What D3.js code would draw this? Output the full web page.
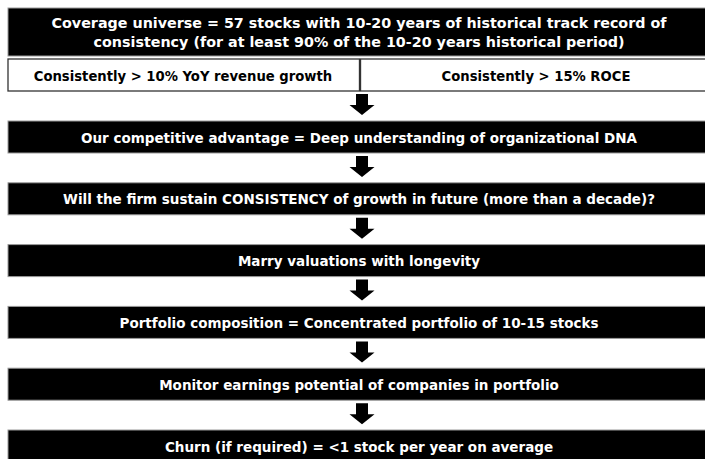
<!DOCTYPE html>
<html>
<head>
<meta charset="utf-8">
<script src="https://cdn.jsdelivr.net/npm/d3@7"></script>
<style>
  body { margin: 0; background: #fff; }
  text { font-family: "DejaVu Sans", sans-serif; font-weight: bold; }
</style>
</head>
<body>
<svg></svg>
<script>
// flow content
var headerLines = [
   "Coverage universe = 57 stocks with 10-20 years of historical track record of",
   "consistency (for at least 90% of the 10-20 years historical period)"
];
var filters = ["Consistently > 10% YoY revenue growth", "Consistently > 15% ROCE"];
var steps = [
   "Our competitive advantage = Deep understanding of organizational DNA",
   "Will the firm sustain CONSISTENCY of growth in future (more than a decade)?",
   "Marry valuations with longevity",
   "Portfolio composition = Concentrated portfolio of 10-15 stocks",
   "Monitor earnings potential of companies in portfolio",
   "Churn (if required) = <1 stock per year on average"
];

var width = 705, height = 459;
var left = 8, right = 712, cx = 359, arrowX = 362;

var svg = d3.select("svg")
   .attr("width", width)
   .attr("height", height);

// header box
svg.append("rect")
   .attr("x", left).attr("y", 8)
   .attr("width", right - left).attr("height", 48)
   .style("fill", "#000").style("stroke", "#999").style("stroke-width", 1);

svg.selectAll("text.head")
   .data(headerLines)
   .enter().append("text")
   .attr("class", "head")
   .attr("x", cx)
   .attr("y", function(d, i) { return 28 + i * 18.5; })
   .attr("text-anchor", "middle")
   .style("fill", "#fff")
   .style("font-size", "14.3px")
   .text(function(d) { return d; });

// two filter boxes side by side
var fx = d3.scaleBand().domain(filters).range([left, right]).paddingInner(0.003);

var fg = svg.selectAll("g.filter")
   .data(filters)
   .enter().append("g")
   .attr("class", "filter");

fg.append("rect")
   .attr("x", function(d) { return fx(d); })
   .attr("y", 59)
   .attr("width", fx.bandwidth())
   .attr("height", 32)
   .style("fill", "#fff").style("stroke", "#333").style("stroke-width", 1.3);

fg.append("text")
   .attr("x", function(d, i) { return i === 0 ? 183 : 536; })
   .attr("y", 80.5)
   .attr("text-anchor", "middle")
   .style("fill", "#000")
   .style("font-size", "13.2px")
   .text(function(d) { return d; });

// step boxes
var y = d3.scaleLinear().domain([0, steps.length - 1]).range([121, 430]);
var boxH = 32;

var sg = svg.selectAll("g.step")
   .data(steps)
   .enter().append("g")
   .attr("class", "step");

sg.append("rect")
   .attr("x", left)
   .attr("y", function(d, i) { return y(i); })
   .attr("width", right - left)
   .attr("height", boxH)
   .style("fill", "#000").style("stroke", "#999").style("stroke-width", 1);

sg.append("text")
   .attr("x", cx)
   .attr("y", function(d, i) { return y(i) + 21.5; })
   .attr("text-anchor", "middle")
   .style("fill", "#fff")
   .style("font-size", "13.5px")
   .text(function(d) { return d; });

// block arrows between boxes
var arrowTops = [94].concat(steps.slice(0, -1).map(function(d, i) { return y(i) + boxH + 3; }));

function arrowPath(t) {
   var sw = 6, hw = 12.5, shaft = 11, head = 10;
   return "M" + (arrowX - sw) + "," + t +
      "H" + (arrowX + sw) +
      "V" + (t + shaft) +
      "H" + (arrowX + hw) +
      "L" + arrowX + "," + (t + shaft + head) +
      "L" + (arrowX - hw) + "," + (t + shaft) +
      "H" + (arrowX - sw) + "Z";
}

svg.selectAll("path.arrow")
   .data(arrowTops)
   .enter().append("path")
   .attr("class", "arrow")
   .attr("d", arrowPath)
   .style("fill", "#000");
</script>
</body>
</html>
